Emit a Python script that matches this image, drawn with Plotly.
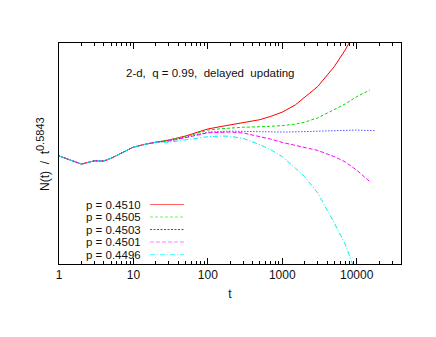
import plotly.graph_objects as go

# time steps
t_common = [1, 2, 3, 4, 5, 6, 7, 8, 10, 15, 20]
y_common = [0.489, 0.452, 0.467, 0.466, 0.478, 0.491, 0.502, 0.512, 0.529, 0.543, 0.551]

t_late = [30, 50, 70, 100, 150, 200, 300, 500, 700, 1000, 1500, 2000, 3000, 5000, 7000, 10000, 15000]

# values in arbitrary units (N(t)/t^0.5843)
y_4510 = [0.561, 0.579, 0.594, 0.611, 0.622, 0.629, 0.638, 0.653, 0.668, 0.687, 0.720, 0.755, 0.803, 0.893, 0.968, 1.06, 1.20]
y_4505 = [0.559, 0.576, 0.590, 0.606, 0.612, 0.615, 0.619, 0.621, 0.623, 0.626, 0.633, 0.642, 0.661, 0.697, 0.724, 0.757, 0.787]
y_4503 = [0.557, 0.572, 0.584, 0.597, 0.600, 0.601, 0.600, 0.598, 0.597, 0.597, 0.598, 0.599, 0.600, 0.602, 0.604, 0.606, 0.604]
y_4501 = [0.556, 0.570, 0.582, 0.594, 0.597, 0.597, 0.593, 0.578, 0.565, 0.550, 0.537, 0.528, 0.514, 0.486, 0.462, 0.425, 0.373]
y_4496 = [0.551, 0.563, 0.570, 0.576, 0.579, 0.578, 0.568, 0.540, 0.517, 0.486, 0.434, 0.395, 0.321, 0.186, 0.090, -0.05, -0.25]

t_blue_end = 17600
y_blue_end = 0.603

labels = ["p = 0.4510", "p = 0.4505", "p = 0.4503", "p = 0.4501", "p = 0.4496"]
colors = ["#ff0000", "#00dd00", "#0000ff", "#ff00ff", "#00eeee"]
legend_colors = ["#ff6060", "#60ff60", "#4040ff", "#ff80ff", "#60ffff"]
dashes = ["solid", "3px,2px", "1px,2px", "4px,2px", "5px,2px,1px,2px"]
legend_dashes = ["solid", "3px,2px", "2px,1.5px", "4px,2px", "5px,2px,1px,2px"]

series = [y_4510, y_4505, y_4503, y_4501, y_4496]

fig = go.Figure()
for i, ys in enumerate(series):
    tx = t_common + t_late
    yy = y_common + ys
    if i == 2:
        tx = tx + [t_blue_end]
        yy = yy + [y_blue_end]
    fig.add_trace(go.Scatter(x=tx, y=yy, mode="lines", name=labels[i],
                             line=dict(color=colors[i], width=1, dash=dashes[i]),
                             showlegend=False))

font = dict(family="Liberation Sans, Arial, sans-serif", size=12, color="#111")
font_small = dict(family="Liberation Sans, Arial, sans-serif", size=11.5, color="#111")

# plot area: x 59..401, y 43..264 (page pixels)
W = 342.0
H = 221.0

annotations = [
    dict(text="2-d,\u00a0 q = 0.99,\u00a0 delayed\u00a0 updating", xref="paper", yref="paper",
         x=(209.5 - 59) / W, y=(264 - 73) / H, showarrow=False, font=font_small,
         xanchor="center", yanchor="middle"),
    dict(text="N(t)\u00a0 /\u00a0 t<sup><span style='font-size:11px'>0.5843</span></sup>",
         xref="paper", yref="paper",
         x=-(59 - 54) / W, y=(264 - 154) / H, showarrow=False, textangle=-90, font=font,
         xanchor="right", yanchor="middle"),
]

shapes = []
row_y = [204.5, 217.0, 229.5, 242.0, 254.5]
for i in range(5):
    py = row_y[i]
    yp = (264 - py) / H
    annotations.append(dict(text=labels[i], xref="paper", yref="paper",
                            x=(142 - 59) / W, y=yp, showarrow=False, font=font_small,
                            xanchor="right", yanchor="middle", height=12, borderpad=0))
    shapes.append(dict(type="line", xref="paper", yref="paper",
                       x0=(150 - 59) / W, x1=(184 - 59) / W, y0=yp, y1=yp,
                       line=dict(color=legend_colors[i], width=1, dash=legend_dashes[i])))

# page has an 8px body margin, so margins are offset by 8px
fig.update_layout(
    width=436, height=337,
    margin=dict(l=51, r=43, t=35, b=81),
    paper_bgcolor="white", plot_bgcolor="white",
    font=font,
    annotations=annotations, shapes=shapes,
    xaxis=dict(type="log", range=[0, 4.596],
               tickvals=[1, 10, 100, 1000, 10000], ticktext=["1", "10", "100", "1000", "10000"],
               ticks="inside", ticklen=6, tickcolor="black",
               minor=dict(ticks="inside", ticklen=3, tickcolor="black", dtick="D1", showgrid=False),
               showline=True, linecolor="black", linewidth=1, mirror="allticks",
               showgrid=False, zeroline=False,
               title=dict(text="t", font=font, standoff=8)),
    yaxis=dict(range=[0, 1], showticklabels=False, ticks="",
               showline=True, linecolor="black", linewidth=1, mirror=True,
               showgrid=False, zeroline=False),
)

fig.write_html("out.html")
